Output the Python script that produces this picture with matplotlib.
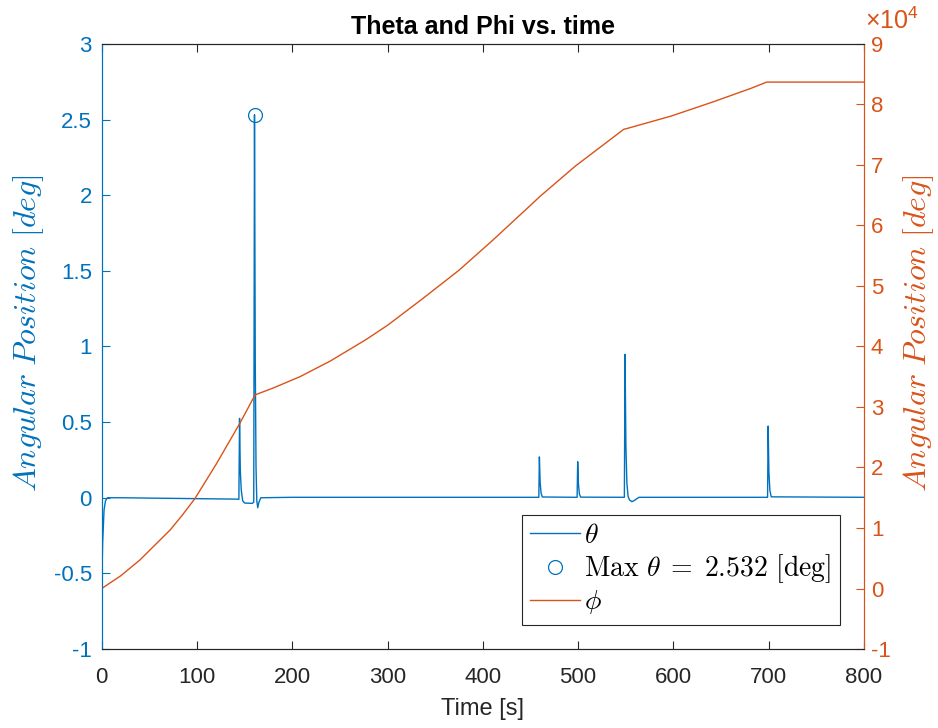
import matplotlib
matplotlib.use('Agg')
import numpy as np
import matplotlib.pyplot as plt
from matplotlib.ticker import FuncFormatter, MultipleLocator

# ---- data ----
theta_t = [0, 1, 2.5, 4, 6, 20, 60, 100, 140, 144.0, 144.7, 145.5, 146.5, 148, 150,
           158, 159.6, 160.4, 161.2, 162.0, 162.8, 163.8, 165.0, 167, 200, 300, 400,
           458.8, 459.4, 460.2, 461.2, 462.5, 499.0, 499.6, 500.4, 501.4, 502.7,
           548.6, 549.3, 550.2, 551.2, 552.5, 554, 556.6, 559, 562, 564, 600,
           698.9, 699.5, 700.3, 701.3, 702.7, 800]
theta_v = [-0.6, -0.3, -0.08, -0.02, 0.0, 0.0, -0.003, -0.006, -0.009, -0.01, 0.525, 0.18, 0.05, -0.02, -0.035,
           -0.037, -0.03, 2.532, 0.9, 0.2, -0.02, -0.066, -0.03, 0.0, 0.003, 0.003, 0.003,
           0.003, 0.27, 0.1, 0.03, 0.005, 0.003, 0.238, 0.09, 0.025, 0.004,
           0.003, 0.948, 0.35, 0.1, 0.01, -0.015, -0.026, -0.018, -0.005, 0.003, 0.003,
           0.003, 0.474, 0.17, 0.05, 0.006, 0.003]

phi_t = [0, 20, 40, 56, 72, 85, 98, 120, 145, 161, 180, 208, 240, 277, 300, 336, 375,
         410, 445, 460, 497, 548, 553, 598, 643, 682, 698, 800]
phi_v = [0, 2100, 4700, 7200, 9700, 12200, 14900, 20500, 27300, 32000, 33140, 35000,
         37600, 41100, 43500, 47800, 52600, 57500, 62600, 64800, 69800, 75900, 76100,
         78100, 80500, 82700, 83700, 83700]

max_t = 160.4
max_theta = 2.532
phi_scale_exp = 4

BLUE = '#0072BD'
ORANGE = '#D95319'
GRAY = '#262626'

plt.rcParams['font.family'] = ['Liberation Sans', 'DejaVu Sans']
plt.rcParams['mathtext.fontset'] = 'cm'
plt.rcParams['axes.unicode_minus'] = False

fig = plt.figure(figsize=(9.38, 7.28), dpi=100)
ax = fig.add_axes([0.1084, 0.1085, 0.8126, 0.8311])
ax2 = ax.twinx()

l1, = ax.plot(theta_t, theta_v, color=BLUE, lw=1.0, label=r'$\theta$')
m1, = ax.plot([max_t], [max_theta], 'o', mfc='none', mec=BLUE, ms=10, mew=0.9,
              label=r'$\mathrm{Max}\ \theta\;=\;2.532\ [\mathrm{deg}]$')
l2, = ax2.plot(phi_t, phi_v, color=ORANGE, lw=1.0, label=r'$\phi$')

ax.set_xlim(0, 800)
ax.set_ylim(-1, 3)
ax2.set_ylim(-10000, 90000)
ax.xaxis.set_major_locator(MultipleLocator(100))
ax.set_yticks(np.arange(-1, 3.01, 0.5))
ax.yaxis.set_major_formatter(FuncFormatter(lambda v, p: '%g' % v))
ax2.yaxis.set_major_locator(MultipleLocator(10000))
ax2.yaxis.set_major_formatter(FuncFormatter(lambda v, p: '%g' % (v / 10 ** phi_scale_exp)))

TS = 16
ax.tick_params(axis='x', direction='in', length=5.5, width=0.8, colors=GRAY, labelsize=TS,
               top=True, pad=13)
ax.tick_params(axis='y', direction='in', length=5.5, width=0.8, colors=BLUE, labelsize=TS, pad=7)
ax2.tick_params(axis='y', direction='in', length=5.5, width=0.8, colors=ORANGE, labelsize=TS, pad=5)

ax2.annotate(r'$\mathregular{\times10^{%d}}$' % phi_scale_exp, xy=(1.0, 1.0),
             xycoords='axes fraction', xytext=(1, 7), textcoords='offset points',
             ha='left', va='bottom', fontsize=18, color=ORANGE)

for a in (ax, ax2):
    a.spines['left'].set_color(BLUE)
    a.spines['right'].set_color(ORANGE)
    a.spines['top'].set_color(GRAY)
    a.spines['bottom'].set_color(GRAY)
    for s in a.spines.values():
        s.set_linewidth(0.8)

ax.set_xlabel('Time [s]', fontsize=17, color=GRAY, labelpad=7)
ax.set_ylabel(r'$Angular\ Position\ [deg]$', fontsize=23, color=BLUE)
ax2.set_ylabel(r'$Angular\ Position\ [deg]$', fontsize=23, color=ORANGE)
ax.yaxis.set_label_coords(-0.073, 0.522)
ax2.yaxis.set_label_coords(1.049, 0.522)
ax.set_title('Theta and Phi vs. time', fontsize=18, fontweight='bold', color='black', pad=7)

leg = ax2.legend(handles=[l1, m1, l2], loc='lower right', bbox_to_anchor=(0.9685, 0.04),
                 borderaxespad=0, fontsize=20, frameon=True, fancybox=False,
                 framealpha=1, edgecolor=GRAY, handlelength=1.8, handletextpad=0.15,
                 labelspacing=0.12, borderpad=0.3)
leg.get_frame().set_linewidth(0.8)

fig.savefig('out.png', dpi=100)
